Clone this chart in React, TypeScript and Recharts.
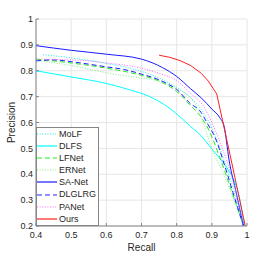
import React from 'react';
import { LineChart, Line, XAxis, YAxis, CartesianGrid } from 'recharts';

// [recall, precision] pairs
const MOLF: [number, number][] = [
  [0.42, 0.862], [0.5, 0.85], [0.55, 0.84], [0.6, 0.828], [0.65, 0.815], [0.7, 0.797],
  [0.75, 0.772], [0.8, 0.735], [0.84, 0.695], [0.87, 0.65], [0.9, 0.58], [0.93, 0.475],
  [0.96, 0.35], [0.99, 0.2],
];
const DLFS: [number, number][] = [
  [0.4, 0.8], [0.5, 0.776], [0.6, 0.751], [0.667, 0.726], [0.72, 0.702], [0.78, 0.655],
  [0.84, 0.584], [0.87, 0.548], [0.895, 0.506], [0.92, 0.465], [0.95, 0.41], [0.965, 0.37],
  [0.98, 0.3], [0.992, 0.2],
];
const LFNET: [number, number][] = [
  [0.4, 0.845], [0.5, 0.83], [0.6, 0.81], [0.7, 0.782], [0.75, 0.76], [0.8, 0.72],
  [0.84, 0.665], [0.87, 0.62], [0.89, 0.575], [0.92, 0.475], [0.95, 0.36], [0.99, 0.2],
];
const ERNET: [number, number][] = [
  [0.4, 0.84], [0.5, 0.82], [0.56, 0.803], [0.63, 0.785], [0.7, 0.772], [0.75, 0.76],
  [0.78, 0.745], [0.81, 0.725], [0.84, 0.695], [0.86, 0.65], [0.875, 0.6], [0.9, 0.5],
  [0.94, 0.38], [0.99, 0.2],
];
const SANET: [number, number][] = [
  [0.4, 0.897], [0.5, 0.879], [0.6, 0.864], [0.7, 0.845], [0.76, 0.812], [0.8, 0.778],
  [0.84, 0.73], [0.87, 0.695], [0.9, 0.652], [0.923, 0.618], [0.935, 0.585], [0.949, 0.455],
  [0.97, 0.325], [0.99, 0.2],
];
const DLGLRG: [number, number][] = [
  [0.4, 0.838], [0.45, 0.842], [0.5, 0.835], [0.6, 0.815], [0.65, 0.805], [0.7, 0.787],
  [0.75, 0.765], [0.78, 0.745], [0.8, 0.728], [0.84, 0.672], [0.866, 0.645], [0.89, 0.59],
  [0.91, 0.54], [0.935, 0.44], [0.96, 0.33], [0.99, 0.2],
];
const PANET: [number, number][] = [
  [0.4, 0.845], [0.5, 0.842], [0.55, 0.838], [0.6, 0.83], [0.65, 0.822], [0.7, 0.81],
  [0.75, 0.79], [0.8, 0.762], [0.84, 0.712], [0.875, 0.665], [0.9, 0.6], [0.93, 0.5],
  [0.955, 0.4], [0.99, 0.2],
];
const OURS: [number, number][] = [
  [0.75, 0.86], [0.78, 0.852], [0.81, 0.839], [0.84, 0.82], [0.87, 0.79], [0.89, 0.76],
  [0.914, 0.71], [0.955, 0.455], [0.995, 0.2],
];

const X_TICKS = [0.4, 0.5, 0.6, 0.7, 0.8, 0.9, 1];
const Y_TICKS = [0.2, 0.3, 0.4, 0.5, 0.6, 0.7, 0.8, 0.9, 1];

const DOT = '1 1.6';
const DASH = '5 3';

const SERIES = [
  { name: 'MoLF', points: MOLF, color: '#22e8f0', dash: DOT, curve: 'monotone' },
  { name: 'DLFS', points: DLFS, color: '#00ffff', dash: undefined, curve: 'monotone' },
  { name: 'LFNet', points: LFNET, color: '#22ee22', dash: DASH, curve: 'monotone' },
  { name: 'ERNet', points: ERNET, color: '#88ee88', dash: DOT, curve: 'monotone' },
  { name: 'SA-Net', points: SANET, color: '#1a1aff', dash: undefined, curve: 'monotone' },
  { name: 'DLGLRG', points: DLGLRG, color: '#2020ff', dash: DASH, curve: 'monotone' },
  { name: 'PANet', points: PANET, color: '#ff66ff', dash: DOT, curve: 'monotone' },
  { name: 'Ours', points: OURS, color: '#ff2020', dash: undefined, curve: 'linear' },
] as const;

const FONT = '"Liberation Sans", Arial, Helvetica, sans-serif';
const AXIS_GRAY = '#858585';
const TEXT = '#262626';

const fmt = (v: number) => (v === 1 ? '1' : v.toFixed(1));

export default function App() {
  return (
    <div style={{ position: 'fixed', left: 0, top: 0, width: 274, height: 257, background: '#fff', fontFamily: FONT }}>
      <LineChart width={274} height={257} margin={{ top: 19, right: 27, left: 0, bottom: 0 }}>
        <CartesianGrid stroke="#e6e6e6" strokeWidth={1} />
        <XAxis
          type="number"
          dataKey="x"
          domain={[0.4, 1]}
          ticks={X_TICKS}
          tickFormatter={fmt}
          allowDataOverflow
          height={31}
          stroke={AXIS_GRAY}
          tickSize={-3}
          tickMargin={9}
          tick={{ fill: TEXT, fontSize: 9, fontFamily: FONT }}
          label={{ value: 'Recall', position: 'insideBottom', offset: 6, fill: TEXT, fontSize: 10, fontFamily: FONT }}
        />
        <YAxis
          type="number"
          dataKey="y"
          domain={[0.2, 1]}
          ticks={Y_TICKS}
          tickFormatter={fmt}
          allowDataOverflow
          width={36}
          stroke={AXIS_GRAY}
          tickSize={-3}
          tickMargin={6}
          tick={{ fill: TEXT, fontSize: 9, fontFamily: FONT }}
          label={{
            value: 'Precision',
            angle: -90,
            position: 'insideLeft',
            offset: 11,
            fill: TEXT,
            fontSize: 10,
            fontFamily: FONT,
            style: { textAnchor: 'middle' },
          }}
        />
        {SERIES.map((s) => (
          <Line
            key={s.name}
            data={s.points.map(([x, y]) => ({ x, y }))}
            dataKey="y"
            name={s.name}
            type={s.curve}
            stroke={s.color}
            strokeWidth={1}
            strokeDasharray={s.dash}
            dot={false}
            activeDot={false}
            isAnimationActive={false}
          />
        ))}
      </LineChart>
      <div
        style={{
          position: 'absolute',
          left: 36,
          top: 127,
          width: 63,
          height: 99,
          boxSizing: 'border-box',
          border: `1px solid ${AXIS_GRAY}`,
          background: '#fff',
          fontSize: 9,
          color: TEXT,
        }}
      >
        {SERIES.map((s) => (
          <div key={s.name} style={{ display: 'flex', alignItems: 'center', height: 12.1, lineHeight: '12.1px' }}>
            <svg width={21} height={12} style={{ flex: 'none' }}>
              <line x1={0} y1={6} x2={20} y2={6} stroke={s.color} strokeWidth={1.2} strokeDasharray={s.dash} />
            </svg>
            <span style={{ marginLeft: 1, whiteSpace: 'nowrap' }}>{s.name}</span>
          </div>
        ))}
      </div>
    </div>
  );
}
